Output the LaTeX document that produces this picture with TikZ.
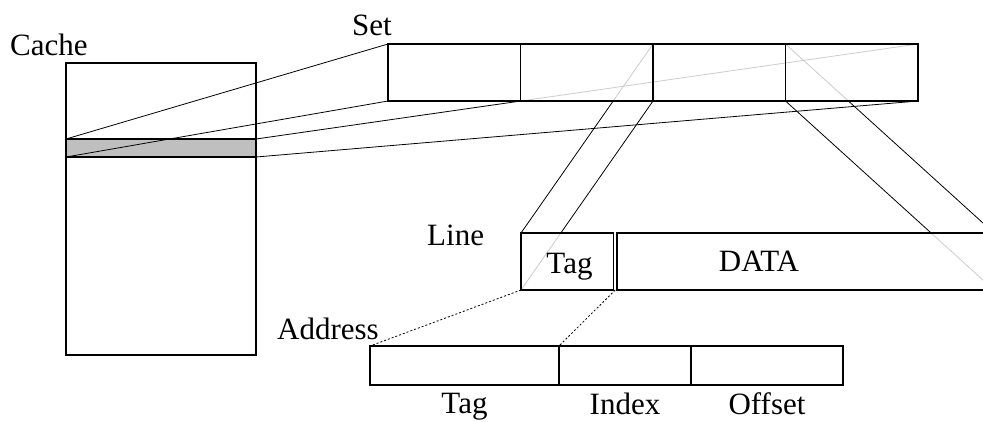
\documentclass[tikz,border=0pt]{standalone}
\usepackage{fontspec}
\setmainfont{Liberation Serif}
\usetikzlibrary{calc}
\pgfdeclarelayer{back}
\pgfdeclarelayer{mid}
\pgfsetlayers{back,mid,main}
\begin{document}
\begin{tikzpicture}[x=1pt,y=-1pt,
  box/.style={draw, line width=1.6pt, inner sep=0pt, outer sep=0pt, anchor=north west},
  setcell/.style={box, fill=white, fill opacity=0.8, minimum width=132.5pt, minimum height=57pt},
  linecell/.style={box, fill=white, fill opacity=0.8, minimum height=57pt},
  addrcell/.style={box, line width=1.3pt, minimum height=39pt},
  txt/.style={font=\fontsize{31}{36}\selectfont, inner sep=0pt},
  link/.style={line width=0.8pt},
  dotlink/.style={line width=0.8pt, dash pattern=on 2pt off 2pt}]

\useasboundingbox (0,0) rectangle (983,421);
\clip (0,0) rectangle (983,421);

% cache with the selected set highlighted
\begin{pgfonlayer}{back}
  \node[box, minimum width=190pt, minimum height=292pt] (cache) at (66,63) {};
  \node[box, fill=gray!50, minimum width=190pt, minimum height=18pt] (band) at (66,139) {};
\end{pgfonlayer}

% one set: four lines
\node[setcell] (s1) at (388,44) {};
\node[setcell] (s2) at (520.5,44) {};
\node[setcell] (s3) at (653,44) {};
\node[setcell] (s4) at (785.5,44) {};

% one line: tag and data
\node[linecell, minimum width=92.5pt] (tag) at (521,233) {};
\node[linecell, minimum width=377pt] (data) at (617,233) {};

% address fields
\node[addrcell, minimum width=189pt] (a1) at (370,346) {};
\node[addrcell, minimum width=132pt] (a2) at (559,346) {};
\node[addrcell, minimum width=152pt] (a3) at (691,346) {};

% labels
\node[txt, anchor=base west] (lcache) at (10,55) {Cache};
\node[txt, anchor=base west] (lset) at (352,35) {Set};
\node[txt, anchor=base west] (lline) at (427,245) {Line};
\node[txt, anchor=base west] (laddr) at (277,339) {Address};
\node[txt, anchor=base] (ltag) at (569.5,273) {Tag};
\node[txt, anchor=base] (ldata) at (759,271) {DATA};
\node[txt, anchor=base] (latag) at (a1.south |- 0,413) {Tag};
\node[txt, anchor=base] (laidx) at (a2.south |- 0,414) {Index};
\node[txt, anchor=base] (laoff) at (a3.south |- 0,414) {Offset};

\coordinate (split) at ($(tag.south east)!0.5!(data.south west)$);

% expansion lines
\begin{pgfonlayer}{mid}
  \clip (0,0) rectangle (983,421);
  \draw[link] (band.north west) -- (s1.north west);
  \draw[link] (band.south west) -- (s1.south west);
  \draw[link] (band.north east) -- (s4.north east);
  \draw[link] (band.south east) -- (s4.south east);
  \draw[link] (s3.north west) -- (tag.north west);
  \draw[link] (s3.south west) -- (tag.south west);
  \draw[link] (s3.north east) -- (data.north east);
  \draw[link] (s3.south east) -- (data.south east);
  \draw[dotlink] (tag.south west) -- (a1.north west);
  \draw[dotlink] (split) -- (a1.north east);
\end{pgfonlayer}
\end{tikzpicture}
\end{document}
